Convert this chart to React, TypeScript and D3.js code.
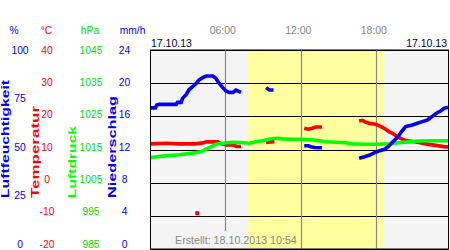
import React from "react";
import * as d3 from "d3";

// ---- labels ----
const timeTicks = [6, 12, 18];
const timeLabels = ["06:00", "12:00", "18:00"];
const dateLabel = "17.10.13";
const createdLabel = "Erstellt: 18.10.2013 10:54";
const daylight = [7.73, 18.59]; // hours

const humTicks = [0, 25, 50, 75, 100];
const tempTicks = [-20, -10, 0, 10, 20, 30, 40];
const presTicks = [985, 995, 1005, 1015, 1025, 1035, 1045];
const precTicks = [0, 4, 8, 12, 16, 20, 24];

// ---- series (time in hours, null = gap) ----
const humTimes = [0.04, 0.45, 0.55, 0.75, 2.1, 2.2, 2.5, 2.6, 2.9, 3.1, 3.4, 3.7, 3.9, 4.2, 4.5, 5.0, 5.25, 5.5, 5.8, 6.05, 6.3, 6.6, 6.85, 7.25,
  null, 9.24, 9.5, 9.83,
  null, 12.27, 12.6, 12.8, 13.1, 13.68,
  null, 16.63, 17.08, 17.48, 17.87, 18.27, 18.67, 18.93, 19.2, 19.46, 19.72, 19.99, 20.33, 20.87, 21.26, 21.66, 22.06, 22.32, 22.58, 22.85, 23.11, 23.37, 23.7];
const humValues = [70.9, 70.9, 72.4, 72.7, 72.7, 73.7, 73.7, 75.7, 77.7, 79.9, 81.6, 83.3, 84.9, 86.1, 86.9, 86.9, 85.8, 83.3, 81.1, 79.4, 78.7, 78.7, 79.9, 78.7,
  null, 81.1, 79.9, 79.9,
  null, 51.9, 51.9, 51.4, 51.0, 50.9,
  null, 45.6, 46.4, 47.2, 48.4, 49.4, 50.1, 51.4, 53.1, 54.8, 56.4, 58.9, 61.5, 62.3, 63.2, 64.0, 64.8, 66.0, 67.3, 68.5, 69.3, 70.7, 71.2];

const tempTimes = [0.04, 1.3, 2.3, 3.6, 4.2, 4.5, 5.4, 5.6, 6.1, 6.6, 6.9, 7.25,
  null, 3.77,
  null, 9.24, 9.55, 9.9,
  null, 12.27, 12.6, 12.9, 13.2, 13.68,
  null, 16.63, 16.9, 17.16, 17.56, 17.95, 18.21, 18.48, 18.75, 19.01, 19.28, 19.54, 19.8, 20.07, 20.33, 20.87, 21.39, 21.92, 22.45, 22.98, 23.51, 23.7];
const tempValues = [11.7, 11.9, 11.7, 11.7, 12.0, 12.3, 12.3, 11.8, 11.4, 11.4, 10.9, 10.9,
  null, -9.2,
  null, 12.1, 12.3, 12.4,
  null, 16.4, 16.1, 16.4, 16.8, 16.8,
  null, 18.6, 18.8, 18.2, 17.8, 17.6, 17.2, 16.7, 16.1, 15.4, 14.9, 14.2, 13.6, 13.1, 12.7, 12.4, 12.1, 11.7, 11.4, 11.1, 10.8, 10.8];

const presTimes = [0.04, 1.0, 2.34, 3.4, 4.06, 4.33, 4.46, 4.86, 5.25, 5.79, 6.58, 7.24, 7.9, 8.43, 8.96, 9.48, 10.02, 10.55, 11.34, 12.13, 12.93, 13.45, 13.98, 14.78, 15.57, 16.1, 17.16, 18.21, 19.01, 19.8, 20.6, 21.39, 22.45, 23.7];
const presValues = [1012.6, 1013.0, 1013.4, 1013.9, 1014.3, 1014.8, 1015.1, 1015.8, 1016.6, 1016.9, 1017.2, 1017.1, 1016.9, 1017.35, 1017.65, 1018.1, 1018.4, 1018.2, 1018.1, 1018.1, 1017.9, 1017.65, 1017.35, 1017.2, 1017.05, 1016.7, 1016.6, 1016.6, 1016.75, 1017.05, 1017.3, 1017.55, 1017.65, 1017.65];

const FONT = "'Liberation Sans', Arial, Helvetica, sans-serif";
const BLUE = "#0000ff";
const RED = "#ff0000";
const GREEN = "#00ff00";
const GREEN_TXT = "#00dd00";

type Pt = { t: number | null; v: number | null };

function zip(times: (number | null)[], values: (number | null)[]): Pt[] {
  return times.map((t, i) => ({ t, v: values[i] }));
}

export default function App() {
  const W = 450, H = 250;
  const plot = { left: 150.5, right: 448.5, top: 50, bottom: 249 };
  const x = d3.scaleLinear().domain([0, 24]).range([149.8, 451.8]);
  const yT = d3.scaleLinear().domain([-20, 40]).range([plot.bottom, plot.top]);
  const yH = d3.scaleLinear().domain([0, 100]).range([plot.bottom, plot.top]);
  const yP = d3.scaleLinear().domain([985, 1045]).range([plot.bottom, plot.top]);
  // tick-label placement (labels evenly spread slightly tighter than grid)
  const lab = d3.scaleLinear().domain([0, 1]).range([244, 50]);

  const mkLine = (y: d3.ScaleLinear<number, number>) =>
    d3.line<Pt>()
      .defined((d) => d.t != null && d.v != null)
      .x((d) => x(d.t as number))
      .y((d) => y(d.v as number));

  const series = [
    { data: zip(tempTimes, tempValues), y: yT, color: RED },
    { data: zip(presTimes, presValues), y: yP, color: GREEN },
    { data: zip(humTimes, humValues), y: yH, color: BLUE },
  ];

  const isolated = (data: Pt[]) =>
    data.filter((d, i) => d.v != null && (i === 0 || data[i - 1].v == null) && (i === data.length - 1 || data[i + 1].v == null));

  const box = { x0: 170, x1: 299, top: 231 };

  const axisCols = [
    { ticks: humTicks, dom: [0, 100], cx: 20, color: BLUE, unit: "%", ux: 14 },
    { ticks: tempTicks, dom: [-20, 40], cx: 47, color: RED, unit: "°C", ux: 46.5 },
    { ticks: presTicks, dom: [985, 1045], cx: 91, color: GREEN_TXT, unit: "hPa", ux: 90 },
    { ticks: precTicks, dom: [0, 24], cx: 124.5, color: BLUE, unit: "mm/h", ux: 132.5 },
  ];

  const titles = [
    { text: "Luftfeuchtigkeit", x: 8.5, len: 118, color: BLUE },
    { text: "Temperatur", x: 38.5, len: 92, color: RED },
    { text: "Luftdruck", x: 76, len: 72, color: GREEN },
    { text: "Niederschlag", x: 115.5, len: 102, color: BLUE },
  ];

  const gridVals = tempTicks;

  return (
    <svg width={W} height={H} style={{ position: "fixed", left: 0, top: 0, display: "block", background: "#fff" }} fontFamily={FONT}>
      <defs>
        <clipPath id="plotclip">
          <rect x={plot.left} y={plot.top} width={plot.right - plot.left} height={plot.bottom - plot.top} />
        </clipPath>
      </defs>

      {/* plot background */}
      <rect x={plot.left} y={plot.top} width={plot.right - plot.left} height={plot.bottom - plot.top} fill="#f4f4f4" />
      <rect x={x(daylight[0])} y={plot.top} width={x(daylight[1]) - x(daylight[0])} height={plot.bottom - plot.top} fill="#ffffa0" />

      {/* horizontal grid */}
      {gridVals.map((v) => (
        <line key={"g" + v} x1={plot.left} x2={plot.right} y1={Math.round(yT(v)) + 0.5} y2={Math.round(yT(v)) + 0.5} stroke="#000" strokeWidth={1.2} />
      ))}

      {/* vertical grid */}
      {timeTicks.map((h) => {
        const xx = Math.round(x(h)) + 0.5;
        const inBox = xx > box.x0 && xx < box.x1;
        return <line key={"v" + h} x1={xx} x2={xx} y1={plot.top} y2={inBox ? box.top : plot.bottom} stroke="#888" strokeWidth={1.2} />;
      })}

      {/* series */}
      <g clipPath="url(#plotclip)">
        {series.map((s, i) => (
          <g key={"s" + i}>
            <path d={mkLine(s.y)(s.data) || ""} fill="none" stroke={s.color} strokeWidth={3.6} strokeLinejoin="miter" />
            {isolated(s.data).map((d, j) => (
              <rect key={j} x={x(d.t as number) - 2} y={s.y(d.v as number) - 2} width={4} height={4} fill={s.color} />
            ))}
          </g>
        ))}
      </g>

      {/* frame */}
      <rect x={plot.left} y={plot.top} width={plot.right - plot.left} height={plot.bottom - plot.top} fill="none" stroke="#000" strokeWidth={1} />

      {/* time labels */}
      {timeTicks.map((h, i) => (
        <text key={"t" + h} x={x(h) - 2.5} y={30.5} dy="0.36em" textAnchor="middle" fontSize={10.5} fill="#888">{timeLabels[i]}</text>
      ))}
      <text x={151} y={43.5} dy="0.36em" fontSize={10.5} fill="#000033">{dateLabel}</text>
      <text x={447} y={43.5} dy="0.36em" textAnchor="end" fontSize={10.5} fill="#000033">{dateLabel}</text>

      {/* created */}
      <text x={175} y={240.5} dy="0.36em" fontSize={10.7} fill="#888">{createdLabel}</text>

      {/* axis columns */}
      {axisCols.map((c, ci) => (
        <g key={"c" + ci} fontSize={10.3} fill={c.color}>
          <text x={c.ux} y={30.5} dy="0.36em" textAnchor="middle">{c.unit}</text>
          {c.ticks.map((t) => (
            <text key={t} x={c.cx} y={lab((t - c.dom[0]) / (c.dom[1] - c.dom[0]))} dy="0.36em" textAnchor="middle">{t}</text>
          ))}
        </g>
      ))}

      {/* rotated titles */}
      {titles.map((t) => (
        <text key={t.text} transform={`translate(${t.x},198) rotate(-90)`} fontSize={10} fontWeight="bold" fill={t.color}
          textLength={t.len} lengthAdjust="spacingAndGlyphs">{t.text}</text>
      ))}
    </svg>
  );
}
